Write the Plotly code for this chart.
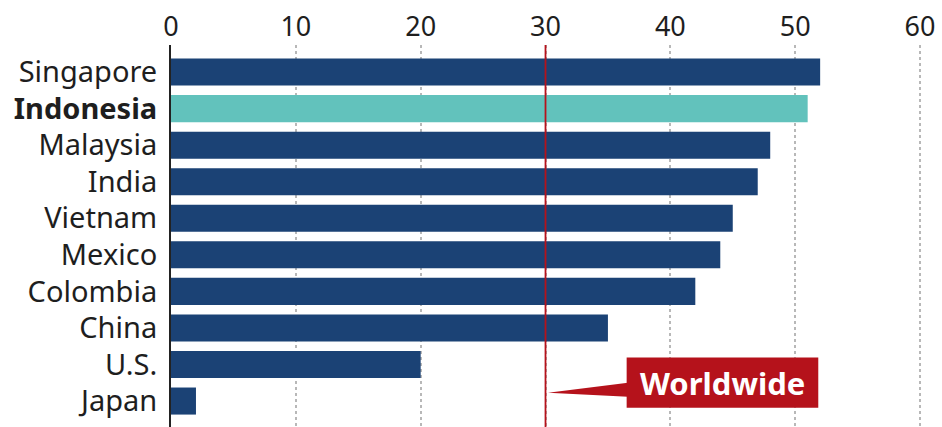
import plotly.graph_objects as go

countries = ["Singapore", "Indonesia", "Malaysia", "India", "Vietnam", "Mexico",
             "Colombia", "China", "U.S.", "Japan"]
values = [52, 51, 48, 47, 45, 44, 42, 35, 20, 2]
highlight = "Indonesia"
worldwide = 30
x_ticks = [0, 10, 20, 30, 40, 50, 60]

DARK = "#1b4275"
TEAL = "#62c2bc"
RED = "#b5121b"
FONT = "Noto Sans"

colors = [TEAL if c == highlight else DARK for c in countries]
ticktext = [f"<b>{c}</b>" if c == highlight else c for c in countries]

fig = go.Figure()
fig.add_trace(go.Bar(
    x=values, y=countries, orientation="h",
    marker=dict(color=colors, line=dict(width=0)),
    width=0.74, hoverinfo="skip",
))

# worldwide reference line
fig.add_shape(type="line", x0=worldwide, x1=worldwide, y0=0, y1=1, yref="paper",
              line=dict(color=RED, width=1.8))
# callout pointer
fig.add_shape(type="path",
              path=f"M {worldwide + 0.2},8.77 L 36.6,8.50 L 36.6,8.88 Z",
              fillcolor=RED, line=dict(width=0))
# callout box
fig.add_shape(type="rect", x0=36.5, x1=51.85, y0=7.81, y1=9.18,
              fillcolor=RED, line=dict(width=0))
fig.add_annotation(x=(36.5 + 51.85) / 2, y=8.5, text="<b>Worldwide</b>",
                   showarrow=False, font=dict(color="white", size=31, family=FONT))

fig.update_layout(
    width=942, height=427,
    margin=dict(l=171, r=7, t=45, b=0),
    plot_bgcolor="white", paper_bgcolor="white",
    showlegend=False,
    font=dict(family=FONT, color="#1e1e1e"),
    bargap=0.26,
)
fig.update_xaxes(
    side="top", range=[0, 61.2], tickvals=x_ticks,
    tickfont=dict(size=27, color="#1e1e1e"),
    showgrid=True, gridcolor="#b8b8b8", griddash="dot", gridwidth=1.5,
    zeroline=False, showline=False, ticks="", ticklabelstandoff=3,
)
fig.update_yaxes(
    categoryorder="array", categoryarray=countries,
    range=[9.71, -0.74], tickvals=countries, ticktext=ticktext,
    tickfont=dict(size=29, color="#1e1e1e"),
    showline=True, linecolor="#222222", linewidth=2,
    showgrid=False, ticks="", ticklabelstandoff=6,
)

fig.write_html("out.html")
